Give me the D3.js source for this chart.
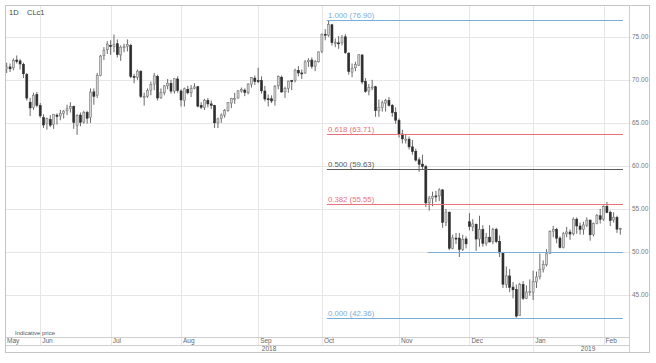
<!DOCTYPE html>
<html>
<head>
<meta charset="utf-8">
<script src="https://cdn.jsdelivr.net/npm/d3@7"></script>
<style>
  body { margin: 0; background: #fff; }
  svg text { font-family: "Liberation Sans", Arial, sans-serif; }
</style>
</head>
<body>
<svg id="chart" width="656" height="363"></svg>
<script>
/* ---------------- DATA ---------------- */
const symbol = "CLc1";
const interval = "1D";

// [date, open, high, low, close]
const bars = [
  ["2018-05-17",71.3,72.0,70.8,71.49],["2018-05-18",71.5,71.9,70.9,71.28],["2018-05-21",71.4,72.5,71.1,72.24],
  ["2018-05-22",72.3,72.83,71.9,72.13],["2018-05-23",72.2,72.4,71.2,71.84],["2018-05-24",71.8,72.0,70.2,70.71],
  ["2018-05-25",70.6,70.8,67.6,67.88],["2018-05-29",67.4,67.9,65.8,66.73],["2018-05-30",66.8,68.5,66.5,68.21],
  ["2018-05-31",68.3,68.6,66.8,67.04],
  ["2018-06-01",67.0,67.3,65.6,65.81],["2018-06-04",65.6,66.0,64.4,64.75],["2018-06-05",64.9,65.6,64.2,65.52],
  ["2018-06-06",65.4,65.9,64.5,64.73],["2018-06-07",64.8,66.0,64.3,65.95],["2018-06-08",65.9,66.1,64.8,65.74],
  ["2018-06-11",65.8,66.5,65.3,66.10],["2018-06-12",66.1,66.5,65.5,66.36],["2018-06-13",66.4,67.1,65.9,66.64],
  ["2018-06-14",66.7,67.4,66.2,66.89],["2018-06-15",66.9,67.0,64.3,65.06],["2018-06-18",64.7,66.0,63.6,65.85],
  ["2018-06-19",65.9,66.2,64.6,65.07],["2018-06-20",65.1,66.4,64.9,66.22],["2018-06-21",66.2,66.4,64.9,65.54],
  ["2018-06-22",65.6,69.0,65.0,68.58],["2018-06-25",68.6,69.0,67.1,68.08],["2018-06-26",68.2,70.8,67.9,70.53],
  ["2018-06-27",70.5,72.9,70.4,72.76],["2018-06-28",72.8,73.8,72.3,73.45],["2018-06-29",73.5,74.5,73.0,74.15],
  ["2018-07-02",74.0,74.6,72.9,73.94],["2018-07-03",73.9,75.27,73.2,74.14],["2018-07-05",74.2,74.7,72.6,72.94],
  ["2018-07-06",72.9,74.0,72.2,73.80],["2018-07-09",73.8,74.2,73.2,73.85],["2018-07-10",73.9,74.7,73.3,74.11],
  ["2018-07-11",74.0,74.2,70.2,70.38],["2018-07-12",70.4,70.7,69.6,70.33],["2018-07-13",70.3,71.2,70.0,71.01],
  ["2018-07-16",71.0,71.1,67.9,68.06],["2018-07-17",68.0,68.5,67.0,68.08],["2018-07-18",68.1,69.0,67.9,68.76],
  ["2018-07-19",68.8,69.8,68.2,69.46],["2018-07-20",69.5,70.8,68.8,70.46],["2018-07-23",70.4,70.6,67.6,67.89],
  ["2018-07-24",67.9,69.0,67.8,68.52],["2018-07-25",68.5,69.4,68.2,69.30],["2018-07-26",69.3,70.1,68.9,69.61],
  ["2018-07-27",69.6,70.0,68.4,68.69],["2018-07-30",68.7,70.2,68.4,70.13],["2018-07-31",70.1,70.4,68.5,68.76],
  ["2018-08-01",68.7,68.9,66.9,67.66],["2018-08-02",67.6,69.1,66.9,68.96],["2018-08-03",68.9,69.3,68.3,68.49],
  ["2018-08-06",68.5,69.4,68.0,69.01],["2018-08-07",69.0,69.6,68.9,69.17],["2018-08-08",69.2,69.3,66.8,66.94],
  ["2018-08-09",67.0,67.4,66.6,66.81],["2018-08-10",66.8,67.8,66.5,67.63],["2018-08-13",67.6,67.9,66.8,67.20],
  ["2018-08-14",67.2,67.6,66.6,67.04],["2018-08-15",67.0,67.1,64.4,65.01],["2018-08-16",65.0,65.6,64.4,65.46],
  ["2018-08-17",65.5,66.1,65.0,65.91],["2018-08-20",65.9,66.6,65.6,66.43],["2018-08-21",66.4,67.4,66.3,67.35],
  ["2018-08-22",67.3,67.9,66.7,67.86],["2018-08-23",67.8,68.5,67.2,67.83],["2018-08-24",67.9,68.8,67.8,68.72],
  ["2018-08-27",68.7,69.1,68.5,68.87],["2018-08-28",68.8,69.0,68.1,68.53],["2018-08-29",68.5,69.6,68.3,69.51],
  ["2018-08-30",69.5,70.3,69.1,70.25],["2018-08-31",70.2,70.5,69.4,69.80],
  ["2018-09-04",69.9,71.4,69.6,69.87],["2018-09-05",69.9,70.4,68.4,68.72],["2018-09-06",68.7,69.3,67.5,67.77],
  ["2018-09-07",67.8,68.3,66.9,67.75],["2018-09-10",67.8,68.2,67.3,67.54],["2018-09-11",67.6,69.4,67.0,69.25],
  ["2018-09-12",69.3,70.5,68.9,70.37],["2018-09-13",70.3,70.5,68.5,68.59],["2018-09-14",68.6,69.2,67.9,68.99],
  ["2018-09-17",69.0,69.9,68.5,69.85],["2018-09-18",69.9,70.0,68.8,69.85],["2018-09-19",69.9,71.3,69.7,71.12],
  ["2018-09-20",71.1,71.6,70.4,70.80],["2018-09-21",70.8,71.2,70.1,70.78],["2018-09-24",70.8,72.3,70.7,72.08],
  ["2018-09-25",72.1,72.5,71.5,72.28],["2018-09-26",72.3,72.6,71.3,71.57],["2018-09-27",71.6,72.3,71.0,72.12],
  ["2018-09-28",72.1,73.3,72.0,73.25],
  ["2018-10-01",73.3,75.4,73.1,75.30],["2018-10-02",75.3,75.9,74.6,75.23],["2018-10-03",75.2,76.90,75.0,76.41],
  ["2018-10-04",76.4,76.5,74.0,74.33],["2018-10-05",74.3,74.8,73.8,74.34],["2018-10-08",74.3,75.1,73.6,74.29],
  ["2018-10-09",74.3,75.2,74.0,74.96],["2018-10-10",75.0,75.3,73.0,73.17],["2018-10-11",73.1,73.2,70.6,70.97],
  ["2018-10-12",70.9,71.9,70.3,71.34],["2018-10-15",71.4,72.1,71.0,71.78],["2018-10-16",71.7,73.0,71.6,72.92],
  ["2018-10-17",72.9,72.9,69.5,69.75],["2018-10-18",69.8,70.2,68.5,68.65],["2018-10-19",68.7,69.5,68.2,69.12],
  ["2018-10-22",69.1,70.0,68.8,69.17],["2018-10-23",69.2,69.3,65.7,66.43],["2018-10-24",66.4,67.7,65.7,66.82],
  ["2018-10-25",66.8,67.6,66.3,67.33],["2018-10-26",67.3,67.8,66.3,67.59],["2018-10-29",67.6,68.0,66.9,67.04],
  ["2018-10-30",67.0,67.2,65.7,66.18],["2018-10-31",66.2,66.8,64.9,65.31],
  ["2018-11-01",65.3,65.5,63.3,63.69],["2018-11-02",63.7,64.2,62.6,63.14],["2018-11-05",63.1,63.7,62.6,63.10],
  ["2018-11-06",63.1,63.4,61.9,62.21],["2018-11-07",62.2,63.0,61.3,61.67],["2018-11-08",61.7,62.0,60.5,60.67],
  ["2018-11-09",60.7,61.0,59.3,60.19],["2018-11-12",60.2,61.3,59.6,59.93],["2018-11-13",59.9,60.1,55.2,55.69],
  ["2018-11-14",55.7,56.5,54.8,56.25],["2018-11-15",56.2,57.0,55.3,56.46],["2018-11-16",56.5,57.1,55.8,56.46],
  ["2018-11-19",56.5,57.4,55.9,57.20],["2018-11-20",57.2,57.3,52.8,53.43],["2018-11-21",53.4,55.0,53.0,54.63],
  ["2018-11-23",54.6,54.7,50.2,50.42],["2018-11-26",50.4,52.0,50.3,51.63],["2018-11-27",51.6,52.2,50.9,51.56],
  ["2018-11-28",51.6,52.2,49.4,50.29],["2018-11-29",50.3,52.0,50.1,51.45],["2018-11-30",51.5,51.8,50.4,50.93],
  ["2018-12-03",53.5,54.5,52.5,52.95],["2018-12-04",52.9,53.8,52.4,53.25],["2018-12-06",53.2,53.3,50.1,51.49],
  ["2018-12-07",51.5,54.2,50.6,52.61],["2018-12-10",52.6,53.1,50.6,51.00],["2018-12-11",51.0,52.2,50.7,51.65],
  ["2018-12-12",51.7,53.1,51.1,51.15],["2018-12-13",51.2,52.8,50.9,52.58],["2018-12-14",52.6,52.8,51.0,51.20],
  ["2018-12-17",51.2,51.9,49.4,49.88],["2018-12-18",49.9,50.0,45.8,46.24],["2018-12-19",46.2,48.3,45.8,47.20],
  ["2018-12-20",47.2,48.0,45.3,45.88],["2018-12-21",45.9,46.5,44.6,45.59],["2018-12-24",45.6,46.2,42.36,42.53],
  ["2018-12-26",42.6,46.4,42.6,46.22],["2018-12-27",46.2,46.6,44.4,44.61],["2018-12-28",44.6,46.1,44.5,45.33],
  ["2018-12-31",45.3,46.8,44.9,45.41],
  ["2019-01-02",45.3,47.8,44.4,46.54],["2019-01-03",46.5,47.7,45.8,47.09],["2019-01-04",47.1,49.8,46.8,47.96],
  ["2019-01-07",48.0,49.0,47.6,48.52],["2019-01-08",48.5,50.3,48.3,49.78],["2019-01-09",49.8,52.5,49.8,52.36],
  ["2019-01-10",52.4,53.0,51.7,52.59],["2019-01-11",52.6,52.8,51.0,51.59],["2019-01-14",51.6,51.8,50.4,50.51],
  ["2019-01-15",50.5,52.3,50.4,52.11],["2019-01-16",52.1,52.9,51.7,52.31],["2019-01-17",52.3,52.6,51.4,52.07],
  ["2019-01-18",52.1,54.0,51.9,53.80],["2019-01-22",53.8,54.0,52.1,53.01],["2019-01-23",53.0,53.4,52.0,52.62],
  ["2019-01-24",52.6,53.5,52.0,53.13],["2019-01-25",53.1,54.0,52.9,53.69],["2019-01-28",53.7,53.7,51.3,51.99],
  ["2019-01-29",52.0,53.4,51.8,53.31],["2019-01-30",53.3,54.4,53.2,54.23],["2019-01-31",54.2,55.0,53.3,53.79],
  ["2019-02-01",53.8,55.4,53.6,55.26],["2019-02-04",55.3,55.8,54.5,54.56],["2019-02-05",54.6,54.8,53.0,53.66],
  ["2019-02-06",53.7,54.6,53.4,54.01],["2019-02-07",54.0,54.2,52.2,52.64],["2019-02-08",52.6,52.8,52.0,52.72]
];

const yTicks = [45, 50, 55, 60, 65, 70, 75];

// Fibonacci retracement drawn from the Oct 3 high to the Dec 24 low
const fibStart = "2018-10-03";
const fibRatios = [1.000, 0.618, 0.500, 0.382, 0.000];
const fibValues = [76.90, 63.71, 59.63, 55.55, 42.36];
const fibColors = ["#79aedc", "#e8727b", "#5a5a5a", "#e8727b", "#79aedc"];

// extra horizontal support line
const supportStart = "2018-11-14";
const supportValue = 50.00;

/* ---------------- SVG SETUP ---------------- */
const svg = d3.select("#chart");
const frame = { left: 5, top: 5, right: 649, bottom: 352 };
const plot = { left: 5, top: 5, right: 629, bottom: 337 };
const monthRowBottom = 345;

const parse = d3.timeParse("%Y-%m-%d");
const fmtMonth = d3.timeFormat("%b");

const x = d3.scaleBand()
  .domain(bars.map(d => d[0]))
  .range([plot.left, 622]);

const y = d3.scaleLinear()
  .domain([40.1, 78.7])
  .range([plot.bottom, plot.top]);

const cx = d => x(d) + x.bandwidth() / 2;

/* ---------------- GRID ---------------- */
svg.append("g")
  .selectAll("line")
  .data(yTicks)
  .join("line")
  .attr("x1", plot.left).attr("x2", plot.right + 2)
  .attr("y1", d => Math.round(y(d)) + 0.5).attr("y2", d => Math.round(y(d)) + 0.5)
  .attr("stroke", "#e6e6e6");

svg.append("g")
  .selectAll("text")
  .data(yTicks)
  .join("text")
  .attr("x", plot.right + 3)
  .attr("y", d => y(d))
  .attr("dy", "0.35em")
  .attr("font-size", 6.5)
  .attr("fill", "#777")
  .text(d => d.toFixed(2));

// first trading day of each month
const monthStarts = bars.filter((d, i) => i === 0 || d[0].slice(0, 7) !== bars[i - 1][0].slice(0, 7));

svg.append("g")
  .selectAll("line")
  .data(monthStarts.slice(1))
  .join("line")
  .attr("x1", d => Math.round(cx(d[0])) + 0.5).attr("x2", d => Math.round(cx(d[0])) + 0.5)
  .attr("y1", plot.top).attr("y2", monthRowBottom)
  .attr("stroke", "#e6e6e6");

/* ---------------- AXIS FRAME ---------------- */
const axisG = svg.append("g").attr("stroke", "#cfcfcf").attr("fill", "none");
axisG.append("line")
  .attr("x1", plot.left).attr("x2", plot.right)
  .attr("y1", plot.bottom + 0.5).attr("y2", plot.bottom + 0.5);
axisG.append("line")
  .attr("x1", plot.left).attr("x2", plot.right)
  .attr("y1", monthRowBottom + 0.5).attr("y2", monthRowBottom + 0.5);
axisG.append("line")
  .attr("x1", plot.right + 0.5).attr("x2", plot.right + 0.5)
  .attr("y1", frame.top).attr("y2", frame.bottom);

svg.append("g")
  .selectAll("text")
  .data(monthStarts)
  .join("text")
  .attr("x", (d, i) => i === 0 ? plot.left + 2 : cx(d[0]) + 2)
  .attr("y", 343)
  .attr("font-size", 6.5)
  .attr("fill", "#666")
  .text(d => fmtMonth(parse(d[0])));

// year row
const yearStart = monthStarts.find(d => d[0].startsWith("2019"));
axisG.append("line")
  .attr("x1", Math.round(cx(yearStart[0])) + 0.5).attr("x2", Math.round(cx(yearStart[0])) + 0.5)
  .attr("y1", monthRowBottom).attr("y2", frame.bottom)
  .attr("stroke", "#e6e6e6");

const years = [
  { label: "2018", mid: (plot.left + cx(yearStart[0])) / 2 },
  { label: "2019", mid: (cx(yearStart[0]) + plot.right) / 2 + 7 }
];
svg.append("g")
  .selectAll("text")
  .data(years)
  .join("text")
  .attr("x", d => d.mid)
  .attr("y", 351)
  .attr("text-anchor", "middle")
  .attr("font-size", 6.5)
  .attr("fill", "#666")
  .text(d => d.label);

/* ---------------- CANDLES ---------------- */
const bodyW = 2;
const candles = svg.append("g")
  .selectAll("g")
  .data(bars)
  .join("g");

candles.append("line")
  .attr("x1", d => cx(d[0])).attr("x2", d => cx(d[0]))
  .attr("y1", d => y(d[2])).attr("y2", d => y(d[3]))
  .attr("stroke", "#444")
  .attr("stroke-width", 0.8);

candles.append("rect")
  .attr("x", d => cx(d[0]) - bodyW / 2)
  .attr("y", d => y(Math.max(d[1], d[4])))
  .attr("width", bodyW)
  .attr("height", d => Math.max(1, Math.abs(y(d[1]) - y(d[4]))))
  .attr("fill", d => d[4] >= d[1] ? "#d4d4d4" : "#2e2e2e")
  .attr("stroke", d => d[4] >= d[1] ? "#777" : "#2e2e2e")
  .attr("stroke-width", 0.6);

/* ---------------- FIBONACCI ---------------- */
const fibX1 = x(fibStart);
const fibX2 = 623;
const fibG = svg.append("g");
fibRatios.forEach((r, i) => {
  const yy = Math.round(y(fibValues[i])) + 0.5;
  fibG.append("line")
    .attr("x1", fibX1).attr("x2", fibX2)
    .attr("y1", yy).attr("y2", yy)
    .attr("stroke", fibColors[i]);
  fibG.append("text")
    .attr("x", fibX1 + 1)
    .attr("y", yy - 3)
    .attr("font-size", 7.8)
    .attr("fill", fibColors[i])
    .text(`${r.toFixed(3)} (${fibValues[i].toFixed(2)})`);
});

const sy = Math.round(y(supportValue)) + 0.5;
fibG.append("line")
  .attr("x1", x(supportStart)).attr("x2", fibX2)
  .attr("y1", sy).attr("y2", sy)
  .attr("stroke", "#79aedc");

/* ---------------- LABELS ---------------- */
svg.append("text")
  .attr("x", 9).attr("y", 15)
  .attr("font-size", 7.5).attr("fill", "#444")
  .text(interval);
svg.append("text")
  .attr("x", 27).attr("y", 15)
  .attr("font-size", 7.5).attr("fill", "#444")
  .text(symbol);
svg.append("text")
  .attr("x", 15).attr("y", 335)
  .attr("font-size", 6).attr("fill", "#555")
  .text("Indicative price");

/* ---------------- OUTER FRAME ---------------- */
svg.append("rect")
  .attr("x", frame.left + 0.5).attr("y", frame.top + 0.5)
  .attr("width", frame.right - frame.left).attr("height", frame.bottom - frame.top)
  .attr("fill", "none")
  .attr("stroke", "#c4c4c4");
</script>
</body>
</html>
